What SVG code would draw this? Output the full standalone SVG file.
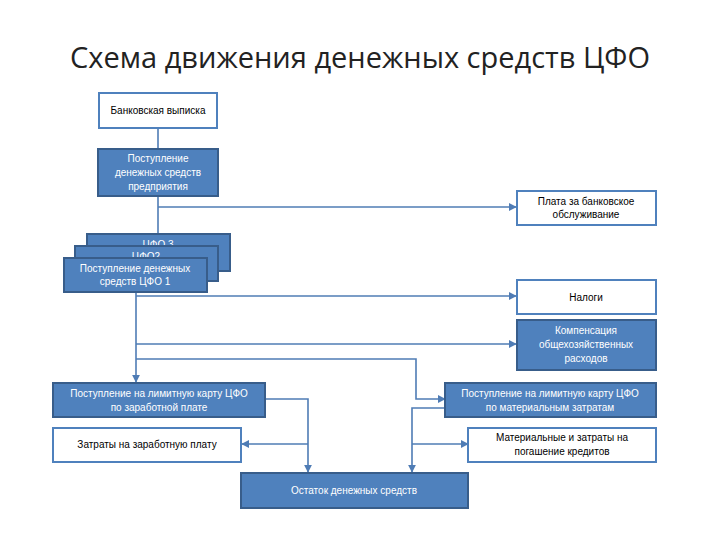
<svg xmlns="http://www.w3.org/2000/svg" width="720" height="540" viewBox="0 0 720 540">
<style>
.b{fill:#4f81bd;stroke:#385d8a;stroke-width:2}
.w{fill:#fff;stroke:#4f81bd;stroke-width:2}
.t{font-family:"Liberation Sans",Arial,sans-serif;font-size:10px;text-anchor:middle}
.tw{fill:#fff}
.tk{fill:#000}
.c{fill:none;stroke:#4f7cb5;stroke-width:1.6}
</style>
<defs><marker id="a" viewBox="0 0 10 10" refX="9" refY="5" markerWidth="5" markerHeight="5" orient="auto"><path d="M0,0L10,5L0,10z" fill="#4f7cb5"/></marker></defs>
<rect width="720" height="540" fill="#fff"/>
<text x="360" y="68" font-family="'Open Sans',sans-serif" font-size="29" text-anchor="middle" fill="#222">Схема движения денежных средств ЦФО</text>
<g id="connectors">
<path class="c" d="M158,128V149"/>
<path class="c" d="M158,196V234"/>
<path class="c" d="M158,207H516" marker-end="url(#a)"/>
<path class="c" d="M136,292V382" marker-end="url(#a)"/>
<path class="c" d="M136,296H516" marker-end="url(#a)"/>
<path class="c" d="M136,344H516" marker-end="url(#a)"/>
<path class="c" d="M136,359H416V399H445" marker-end="url(#a)"/>
<path class="c" d="M265,399H308V472" marker-end="url(#a)"/>
<path class="c" d="M308,444H242" marker-end="url(#a)"/>
<path class="c" d="M445,408H412V472" marker-end="url(#a)"/>
<path class="c" d="M412,444H468" marker-end="url(#a)"/>
</g>
<g id="n1"><rect class="w" x="99" y="93" width="118" height="35"/><text class="t tk" x="158" y="114">Банковская выписка</text></g>
<g id="n2"><rect class="b" x="98" y="149" width="120" height="47"/><text class="t tw" x="158" y="162">Поступление</text><text class="t tw" x="158" y="176">денежных средств</text><text class="t tw" x="158" y="190">предприятия</text></g>
<g id="n3"><rect class="w" x="517" y="191" width="139" height="34"/><text class="t tk" x="586" y="205">Плата за банковское</text><text class="t tk" x="586" y="218">обслуживание</text></g>
<g id="n4"><rect class="b" x="87" y="234" width="143" height="37"/><text class="t tw" x="158" y="248">ЦФО 3</text></g>
<g id="n5"><rect class="b" x="75" y="246" width="143" height="35"/><text class="t tw" x="146" y="260">ЦФО2</text></g>
<g id="n6"><rect class="b" x="64" y="258" width="143" height="34"/><text class="t tw" x="135" y="272">Поступление денежных</text><text class="t tw" x="135" y="285">средств ЦФО 1</text></g>
<g id="n7"><rect class="w" x="517" y="280" width="139" height="34"/><text class="t tk" x="586" y="301">Налоги</text></g>
<g id="n8"><rect class="b" x="517" y="320" width="139" height="50"/><text class="t tw" x="586" y="334">Компенсация</text><text class="t tw" x="586" y="348">общехозяйственных</text><text class="t tw" x="586" y="362">расходов</text></g>
<g id="n9"><rect class="b" x="53" y="383" width="212" height="34"/><text class="t tw" x="159" y="397">Поступление на лимитную карту ЦФО</text><text class="t tw" x="159" y="411">по заработной плате</text></g>
<g id="n10"><rect class="b" x="445" y="383" width="211" height="34"/><text class="t tw" x="550" y="397">Поступление на лимитную карту ЦФО</text><text class="t tw" x="550" y="411">по материальным затратам</text></g>
<g id="n11"><rect class="w" x="53" y="428" width="188" height="34"/><text class="t tk" x="147" y="448">Затраты на заработную плату</text></g>
<g id="n12"><rect class="w" x="468" y="428" width="188" height="34"/><text class="t tk" x="562" y="441">Материальные и затраты на</text><text class="t tk" x="562" y="455">погашение кредитов</text></g>
<g id="n13"><rect class="b" x="241" y="473" width="227" height="35"/><text class="t tw" x="354" y="494">Остаток денежных средств</text></g>
</svg>
